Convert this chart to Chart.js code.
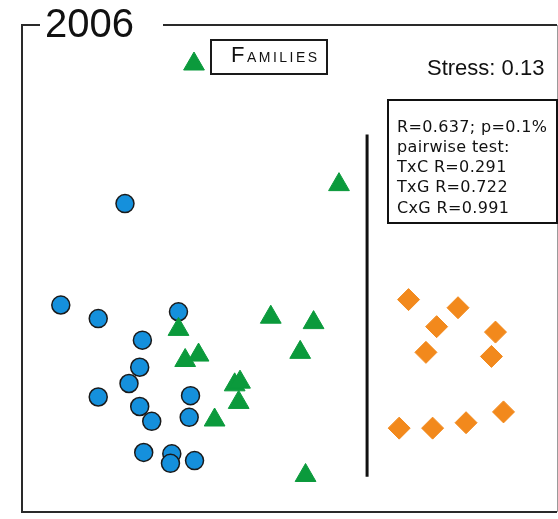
<!DOCTYPE html>
<html>
<head>
<meta charset="utf-8">
<title>2006 – NMDS ordination</title>
<script src="https://cdn.jsdelivr.net/npm/chart.js@4/dist/chart.umd.min.js"></script>
<style>
  html, body { margin: 0; padding: 0; background: #ffffff; }
  #wrap { width: 558px; height: 519px; position: relative; }
</style>
</head>
<body>
<div id="wrap"><canvas id="chart" width="558" height="519"></canvas></div>
<script>
// NMDS coordinates (axis 1, axis 2) for each sample group
const circleX   = [-1.23, -1.71, -1.43, -0.83, -1.10, -1.12, -1.20, -1.43, -0.74, -1.12, -1.03, -0.75, -1.09, -0.88, -0.89, -0.71];
const circleY   = [ 0.48, -0.27, -0.37, -0.32, -0.53, -0.73, -0.85, -0.95, -0.94, -1.02, -1.13, -1.10, -1.36, -1.37, -1.44, -1.42];
const triangleX = [-0.83, -0.78, -0.68, -0.41, -0.37, -0.38, -0.56, -0.14,  0.18,  0.08,  0.37,  0.12];
const triangleY = [-0.45, -0.68, -0.64, -0.86, -0.84, -0.99, -1.12, -0.36, -0.40, -0.62,  0.62, -1.53];
const diamondX  = [ 0.89,  1.26,  1.10,  1.54,  1.02,  1.51,  1.60,  1.32,  1.07,  0.82];
const diamondY  = [-0.23, -0.29, -0.43, -0.47, -0.62, -0.65, -1.06, -1.14, -1.18, -1.18];

// Separating line between the groups
const dividerX = [0.58, 0.58];
const dividerY = [0.99, -1.54];

// Axis extents of the ordination space
const xRange = [-2, 2];
const yRange = [-1.8, 1.8];

// Annotation texts
const panelTitle = '2006';
const legendLabel = ['F', 'AMILIES'];
const stressLabel = 'Stress: 0.13';
const statsLines = ['R=0.637; p=0.1%', 'pairwise test:', 'TxC R=0.291', 'TxG R=0.722', 'CxG R=0.991'];

const BLUE = '#1590dc';
const GREEN = '#0b9a3c';
const ORANGE = '#f2891c';

const zip = (xs, ys) => xs.map((x, i) => ({ x: x, y: ys[i] }));

function spacedText(ctx, text, x, y, spacing) {
  let cx = x;
  for (const ch of text) {
    ctx.fillText(ch, cx, y);
    cx += ctx.measureText(ch).width + spacing;
  }
  return cx;
}

const decorations = {
  id: 'decorations',
  afterDraw(chart) {
    const ctx = chart.ctx;
    const a = chart.chartArea;
    ctx.save();

    // Panel frame with a gap for the year
    ctx.strokeStyle = '#2a2a2a';
    ctx.lineWidth = 2;
    ctx.beginPath();
    ctx.moveTo(40, a.top);
    ctx.lineTo(a.left, a.top);
    ctx.lineTo(a.left, a.bottom);
    ctx.lineTo(a.right, a.bottom);
    ctx.moveTo(a.right, a.top);
    ctx.lineTo(163, a.top);
    ctx.stroke();
    ctx.strokeStyle = '#9a9a9a';
    ctx.lineWidth = 1;
    ctx.beginPath();
    ctx.moveTo(a.right + 0.5, a.top);
    ctx.lineTo(a.right + 0.5, a.bottom);
    ctx.stroke();

    ctx.fillStyle = '#111111';
    ctx.textBaseline = 'alphabetic';
    ctx.font = '40px "Liberation Sans", Arial, sans-serif';
    ctx.fillText(panelTitle, 45, 37);

    // Legend entry
    ctx.fillStyle = GREEN;
    ctx.strokeStyle = GREEN;
    Chart.helpers.drawPoint(ctx, { pointStyle: 'triangle', radius: 12, rotation: 0, borderWidth: 1 }, 194, 64);
    ctx.strokeStyle = '#1a1a1a';
    ctx.lineWidth = 2;
    ctx.strokeRect(211, 40, 116, 34);
    ctx.fillStyle = '#111111';
    ctx.font = '22px "Liberation Sans", Arial, sans-serif';
    let lx = spacedText(ctx, legendLabel[0], 231, 62, 2.5);
    ctx.font = '14px "Liberation Sans", Arial, sans-serif';
    spacedText(ctx, legendLabel[1], lx, 62, 2.5);

    // Stress value
    ctx.font = '22px "Liberation Sans", Arial, sans-serif';
    ctx.fillText(stressLabel, 427, 75);

    // ANOSIM results box
    ctx.fillStyle = '#ffffff';
    ctx.fillRect(388, 100, 169, 123);
    ctx.strokeStyle = '#111111';
    ctx.lineWidth = 2;
    ctx.strokeRect(388, 100, 169, 123);
    ctx.fillStyle = '#111111';
    ctx.font = '16px "DejaVu Sans", sans-serif';
    const baselines = [132, 151.5, 172, 192, 213];
    statsLines.forEach((t, i) => spacedText(ctx, t, 397, baselines[i], 0.35));

    ctx.restore();
  }
};

new Chart(document.getElementById('chart'), {
  type: 'scatter',
  data: {
    datasets: [
      {
        label: 'Families',
        data: zip(triangleX, triangleY),
        pointStyle: 'triangle',
        pointRadius: 12,
        backgroundColor: GREEN,
        borderColor: GREEN,
        borderWidth: 1
      },
      {
        label: 'Group C',
        data: zip(circleX, circleY),
        pointStyle: 'circle',
        pointRadius: 9,
        backgroundColor: BLUE,
        borderColor: '#1a1a1a',
        borderWidth: 1.5
      },
      {
        label: 'Group G',
        data: zip(diamondX, diamondY),
        pointStyle: 'rectRot',
        pointRadius: 11,
        backgroundColor: ORANGE,
        borderColor: ORANGE,
        borderWidth: 1
      },
      {
        type: 'line',
        label: 'divider',
        data: zip(dividerX, dividerY),
        borderColor: '#111111',
        borderWidth: 3,
        pointRadius: 0,
        showLine: true,
        fill: false
      }
    ]
  },
  options: {
    responsive: false,
    animation: false,
    events: [],
    layout: { autoPadding: false, padding: { left: 22, top: 25, right: 1, bottom: 7 } },
    scales: {
      x: { type: 'linear', min: xRange[0], max: xRange[1], display: false },
      y: { type: 'linear', min: yRange[0], max: yRange[1], display: false }
    },
    plugins: {
      legend: { display: false },
      tooltip: { enabled: false },
      title: { display: false }
    }
  },
  plugins: [decorations]
});
</script>
</body>
</html>
